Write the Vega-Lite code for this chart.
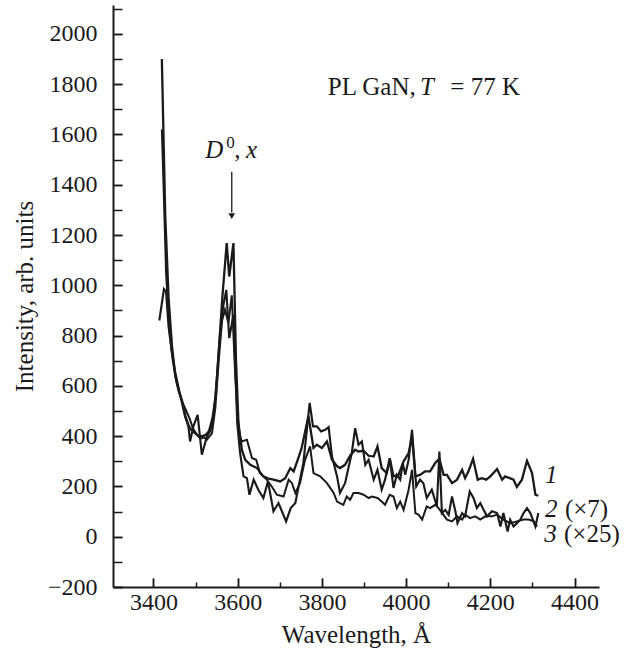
{
  "$schema": "https://vega.github.io/schema/vega-lite/v6.json",
  "width": 486,
  "height": 582,
  "autosize": {"type": "none"},
  "padding": {"left": 113, "top": 5, "right": 29, "bottom": 73},
  "background": "white",
  "config": {
    "view": {"stroke": null},
    "font": "Liberation Serif",
    "axis": {
      "grid": false,
      "domainColor": "#1a1a1a",
      "domainWidth": 2,
      "tickColor": "#1a1a1a",
      "tickWidth": 1.5,
      "labelFont": "Liberation Serif",
      "labelFontSize": 24,
      "labelColor": "#1a1a1a",
      "titleFont": "Liberation Serif",
      "titleFontSize": 25,
      "titleFontWeight": "normal",
      "titleColor": "#1a1a1a",
      "labelFlush": false,
      "labelOverlap": false
    }
  },
  "resolve": {"axis": {"x": "independent", "y": "independent"}},
  "datasets": {
    "spectra": [
      {"s":"1","w":3420,"i":1900},{"s":"1","w":3428,"i":1280},{"s":"1","w":3436,"i":950},{"s":"1","w":3444,"i":760},{"s":"1","w":3452,"i":640},{"s":"1","w":3460,"i":580},{"s":"1","w":3468,"i":540},{"s":"1","w":3476,"i":480},{"s":"1","w":3484,"i":440},{"s":"1","w":3492,"i":420},{"s":"1","w":3500,"i":410},{"s":"1","w":3508,"i":400},{"s":"1","w":3516,"i":400},{"s":"1","w":3524,"i":405},{"s":"1","w":3532,"i":420},{"s":"1","w":3540,"i":470},{"s":"1","w":3548,"i":560},{"s":"1","w":3556,"i":760},{"s":"1","w":3564,"i":960},{"s":"1","w":3574,"i":1168},{"s":"1","w":3580,"i":1035},{"s":"1","w":3590,"i":1168},{"s":"1","w":3596,"i":704},{"s":"1","w":3602,"i":450},{"s":"1","w":3610,"i":346},{"s":"1","w":3618,"i":306},{"s":"1","w":3630,"i":286},{"s":"1","w":3646,"i":273},{"s":"1","w":3661,"i":240},{"s":"1","w":3673,"i":231},{"s":"1","w":3685,"i":227},{"s":"1","w":3701,"i":220},{"s":"1","w":3713,"i":233},{"s":"1","w":3725,"i":273},{"s":"1","w":3733,"i":260},{"s":"1","w":3744,"i":313},{"s":"1","w":3752,"i":353},{"s":"1","w":3768,"i":480},{"s":"1","w":3780,"i":353},{"s":"1","w":3788,"i":366},{"s":"1","w":3800,"i":353},{"s":"1","w":3812,"i":379},{"s":"1","w":3824,"i":306},{"s":"1","w":3836,"i":280},{"s":"1","w":3843,"i":273},{"s":"1","w":3855,"i":286},{"s":"1","w":3867,"i":322},{"s":"1","w":3879,"i":346},{"s":"1","w":3887,"i":339},{"s":"1","w":3899,"i":342},{"s":"1","w":3911,"i":322},{"s":"1","w":3923,"i":319},{"s":"1","w":3932,"i":359},{"s":"1","w":3942,"i":273},{"s":"1","w":3954,"i":253},{"s":"1","w":3962,"i":306},{"s":"1","w":3970,"i":240},{"s":"1","w":3982,"i":246},{"s":"1","w":3994,"i":300},{"s":"1","w":4006,"i":333},{"s":"1","w":4014,"i":400},{"s":"1","w":4022,"i":240},{"s":"1","w":4033,"i":246},{"s":"1","w":4045,"i":260},{"s":"1","w":4057,"i":260},{"s":"1","w":4069,"i":293},{"s":"1","w":4079,"i":310},{"s":"1","w":4089,"i":246},{"s":"1","w":4097,"i":246},{"s":"1","w":4109,"i":213},{"s":"1","w":4121,"i":227},{"s":"1","w":4133,"i":266},{"s":"1","w":4140,"i":233},{"s":"1","w":4148,"i":260},{"s":"1","w":4159,"i":310},{"s":"1","w":4170,"i":227},{"s":"1","w":4180,"i":233},{"s":"1","w":4190,"i":227},{"s":"1","w":4200,"i":240},{"s":"1","w":4216,"i":269},{"s":"1","w":4228,"i":227},{"s":"1","w":4235,"i":240},{"s":"1","w":4246,"i":233},{"s":"1","w":4255,"i":227},{"s":"1","w":4263,"i":198},{"s":"1","w":4275,"i":227},{"s":"1","w":4287,"i":302},{"s":"1","w":4299,"i":253},{"s":"1","w":4307,"i":167},{"s":"1","w":4314,"i":163},
      {"s":"2","w":3414,"i":860},{"s":"2","w":3425,"i":985},{"s":"2","w":3430,"i":975},{"s":"2","w":3436,"i":836},{"s":"2","w":3444,"i":730},{"s":"2","w":3452,"i":651},{"s":"2","w":3459,"i":598},{"s":"2","w":3467,"i":538},{"s":"2","w":3475,"i":478},{"s":"2","w":3483,"i":439},{"s":"2","w":3487,"i":379},{"s":"2","w":3495,"i":440},{"s":"2","w":3505,"i":485},{"s":"2","w":3515,"i":326},{"s":"2","w":3527,"i":399},{"s":"2","w":3535,"i":420},{"s":"2","w":3543,"i":478},{"s":"2","w":3550,"i":620},{"s":"2","w":3558,"i":800},{"s":"2","w":3566,"i":920},{"s":"2","w":3573,"i":982},{"s":"2","w":3580,"i":790},{"s":"2","w":3590,"i":883},{"s":"2","w":3596,"i":600},{"s":"2","w":3599,"i":452},{"s":"2","w":3606,"i":330},{"s":"2","w":3614,"i":240},{"s":"2","w":3622,"i":233},{"s":"2","w":3628,"i":167},{"s":"2","w":3638,"i":227},{"s":"2","w":3649,"i":187},{"s":"2","w":3661,"i":154},{"s":"2","w":3672,"i":220},{"s":"2","w":3685,"i":101},{"s":"2","w":3697,"i":134},{"s":"2","w":3715,"i":61},{"s":"2","w":3726,"i":114},{"s":"2","w":3737,"i":134},{"s":"2","w":3744,"i":194},{"s":"2","w":3756,"i":293},{"s":"2","w":3771,"i":532},{"s":"2","w":3779,"i":439},{"s":"2","w":3788,"i":439},{"s":"2","w":3798,"i":419},{"s":"2","w":3808,"i":425},{"s":"2","w":3816,"i":436},{"s":"2","w":3824,"i":319},{"s":"2","w":3836,"i":240},{"s":"2","w":3843,"i":174},{"s":"2","w":3855,"i":213},{"s":"2","w":3863,"i":273},{"s":"2","w":3871,"i":333},{"s":"2","w":3879,"i":432},{"s":"2","w":3887,"i":366},{"s":"2","w":3895,"i":379},{"s":"2","w":3903,"i":286},{"s":"2","w":3911,"i":306},{"s":"2","w":3923,"i":227},{"s":"2","w":3932,"i":266},{"s":"2","w":3942,"i":187},{"s":"2","w":3950,"i":227},{"s":"2","w":3961,"i":313},{"s":"2","w":3970,"i":194},{"s":"2","w":3978,"i":246},{"s":"2","w":3986,"i":227},{"s":"2","w":3992,"i":293},{"s":"2","w":3998,"i":246},{"s":"2","w":4006,"i":306},{"s":"2","w":4014,"i":425},{"s":"2","w":4024,"i":200},{"s":"2","w":4033,"i":227},{"s":"2","w":4041,"i":213},{"s":"2","w":4049,"i":154},{"s":"2","w":4061,"i":187},{"s":"2","w":4073,"i":121},{"s":"2","w":4079,"i":339},{"s":"2","w":4085,"i":94},{"s":"2","w":4093,"i":107},{"s":"2","w":4101,"i":87},{"s":"2","w":4109,"i":160},{"s":"2","w":4117,"i":101},{"s":"2","w":4122,"i":54},{"s":"2","w":4133,"i":94},{"s":"2","w":4140,"i":81},{"s":"2","w":4151,"i":180},{"s":"2","w":4160,"i":154},{"s":"2","w":4168,"i":114},{"s":"2","w":4176,"i":134},{"s":"2","w":4184,"i":107},{"s":"2","w":4192,"i":81},{"s":"2","w":4204,"i":101},{"s":"2","w":4216,"i":94},{"s":"2","w":4224,"i":41},{"s":"2","w":4231,"i":94},{"s":"2","w":4241,"i":21},{"s":"2","w":4247,"i":68},{"s":"2","w":4255,"i":41},{"s":"2","w":4263,"i":54},{"s":"2","w":4271,"i":68},{"s":"2","w":4279,"i":94},{"s":"2","w":4287,"i":114},{"s":"2","w":4295,"i":94},{"s":"2","w":4307,"i":41},{"s":"2","w":4314,"i":94},
      {"s":"3","w":3420,"i":1620},{"s":"3","w":3424,"i":1400},{"s":"3","w":3430,"i":1050},{"s":"3","w":3438,"i":820},{"s":"3","w":3446,"i":700},{"s":"3","w":3454,"i":620},{"s":"3","w":3462,"i":570},{"s":"3","w":3470,"i":530},{"s":"3","w":3478,"i":500},{"s":"3","w":3486,"i":470},{"s":"3","w":3494,"i":430},{"s":"3","w":3503,"i":406},{"s":"3","w":3512,"i":390},{"s":"3","w":3520,"i":395},{"s":"3","w":3527,"i":386},{"s":"3","w":3539,"i":411},{"s":"3","w":3547,"i":512},{"s":"3","w":3555,"i":700},{"s":"3","w":3563,"i":860},{"s":"3","w":3570,"i":903},{"s":"3","w":3578,"i":850},{"s":"3","w":3586,"i":960},{"s":"3","w":3594,"i":650},{"s":"3","w":3600,"i":480},{"s":"3","w":3605,"i":400},{"s":"3","w":3610,"i":379},{"s":"3","w":3622,"i":386},{"s":"3","w":3634,"i":313},{"s":"3","w":3644,"i":306},{"s":"3","w":3653,"i":253},{"s":"3","w":3669,"i":227},{"s":"3","w":3681,"i":200},{"s":"3","w":3693,"i":167},{"s":"3","w":3709,"i":160},{"s":"3","w":3721,"i":227},{"s":"3","w":3729,"i":213},{"s":"3","w":3737,"i":174},{"s":"3","w":3748,"i":213},{"s":"3","w":3760,"i":306},{"s":"3","w":3772,"i":359},{"s":"3","w":3780,"i":253},{"s":"3","w":3796,"i":240},{"s":"3","w":3812,"i":213},{"s":"3","w":3828,"i":174},{"s":"3","w":3836,"i":140},{"s":"3","w":3851,"i":127},{"s":"3","w":3859,"i":160},{"s":"3","w":3867,"i":147},{"s":"3","w":3875,"i":174},{"s":"3","w":3887,"i":174},{"s":"3","w":3899,"i":167},{"s":"3","w":3911,"i":154},{"s":"3","w":3919,"i":160},{"s":"3","w":3932,"i":154},{"s":"3","w":3942,"i":140},{"s":"3","w":3950,"i":127},{"s":"3","w":3961,"i":167},{"s":"3","w":3970,"i":160},{"s":"3","w":3978,"i":114},{"s":"3","w":3986,"i":140},{"s":"3","w":3994,"i":107},{"s":"3","w":4006,"i":187},{"s":"3","w":4014,"i":266},{"s":"3","w":4022,"i":94},{"s":"3","w":4030,"i":87},{"s":"3","w":4038,"i":68},{"s":"3","w":4049,"i":121},{"s":"3","w":4057,"i":114},{"s":"3","w":4069,"i":127},{"s":"3","w":4077,"i":114},{"s":"3","w":4097,"i":68},{"s":"3","w":4109,"i":61},{"s":"3","w":4121,"i":81},{"s":"3","w":4133,"i":68},{"s":"3","w":4140,"i":88},{"s":"3","w":4152,"i":74},{"s":"3","w":4164,"i":81},{"s":"3","w":4176,"i":68},{"s":"3","w":4188,"i":81},{"s":"3","w":4204,"i":81},{"s":"3","w":4216,"i":88},{"s":"3","w":4231,"i":68},{"s":"3","w":4247,"i":54},{"s":"3","w":4263,"i":61},{"s":"3","w":4279,"i":68},{"s":"3","w":4291,"i":68},{"s":"3","w":4303,"i":61},{"s":"3","w":4311,"i":41}
    ]
  },
  "layer": [
    {
      "data": {"name": "spectra"},
      "mark": {"type": "line", "color": "#1a1a1a", "strokeJoin": "miter"},
      "encoding": {
        "x": {
          "field": "w", "type": "quantitative",
          "scale": {"domain": [3304, 4458], "nice": false, "zero": false},
          "axis": {
            "title": "Wavelength, Å",
            "values": [3400, 3600, 3800, 4000, 4200, 4400],
            "format": "d",
            "ticks": true,
            "tickSize": -9,
            "labelPadding": 12,
            "titlePadding": 8
          }
        },
        "y": {
          "field": "i", "type": "quantitative",
          "scale": {"domain": [-200, 2115], "nice": false, "zero": false},
          "axis": {
            "title": "Intensity, arb. units",
            "values": [-200, 0, 200, 400, 600, 800, 1000, 1200, 1400, 1600, 1800, 2000],
            "format": "d",
            "tickSize": -9,
            "labelPadding": 25,
            "titlePadding": 10
          }
        },
        "detail": {"field": "s"},
        "strokeWidth": {"field": "s", "type": "nominal", "scale": {"domain": ["1", "2", "3"], "range": [2.3, 2, 1.1]}, "legend": null}
      }
    },
    {
      "data": {"values": [{}]},
      "mark": {"type": "rule", "color": "#1a1a1a", "strokeWidth": 1.3},
      "encoding": {
        "x": {"datum": 3586, "axis": {"orient": "top", "offset": -582, "values": [3400, 3600, 3800, 4000, 4200, 4400], "labels": false, "domain": false, "ticks": true, "tickSize": 9, "title": null}},
        "y": {"datum": 1452, "axis": {"orient": "right", "offset": -486, "values": [-200, -100, 0, 100, 200, 300, 400, 500, 600, 700, 800, 900, 1000, 1100, 1200, 1300, 1400, 1500, 1600, 1700, 1800, 1900, 2000, 2100], "labels": false, "domain": false, "ticks": true, "tickSize": 9, "title": null}},
        "y2": {"datum": 1290}
      }
    },
    {
      "data": {"values": [{}]},
      "mark": {"type": "point", "shape": "triangle-down", "filled": true, "color": "#1a1a1a", "opacity": 1, "size": 45},
      "encoding": {
        "x": {"datum": 3586, "axis": {"orient": "top", "offset": -582, "values": [3500, 3700, 3900, 4100, 4300], "labels": false, "domain": false, "ticks": true, "tickSize": 5, "title": null}},
        "y": {"datum": 1275, "axis": null}
      }
    },
    {
      "data": {"values": [{}]},
      "mark": {"type": "text", "text": "D", "fontStyle": "italic", "fontSize": 25, "align": "left", "baseline": "alphabetic", "color": "#1a1a1a"},
      "encoding": {"x": {"datum": 3523, "axis": null}, "y": {"datum": 1507, "axis": null}}
    },
    {
      "data": {"values": [{}]},
      "mark": {"type": "text", "text": "0", "fontSize": 17, "align": "left", "baseline": "alphabetic", "color": "#1a1a1a"},
      "encoding": {"x": {"datum": 3573, "axis": null}, "y": {"datum": 1545, "axis": null}}
    },
    {
      "data": {"values": [{}]},
      "mark": {"type": "text", "text": ",", "fontSize": 25, "align": "left", "baseline": "alphabetic", "color": "#1a1a1a"},
      "encoding": {"x": {"datum": 3592, "axis": null}, "y": {"datum": 1507, "axis": null}}
    },
    {
      "data": {"values": [{}]},
      "mark": {"type": "text", "text": "x", "fontStyle": "italic", "fontSize": 25, "align": "left", "baseline": "alphabetic", "color": "#1a1a1a"},
      "encoding": {"x": {"datum": 3620, "axis": null}, "y": {"datum": 1507, "axis": null}}
    },
    {
      "data": {"values": [{}]},
      "mark": {"type": "text", "text": "PL GaN,", "fontSize": 25, "align": "left", "baseline": "alphabetic", "color": "#1a1a1a"},
      "encoding": {"x": {"datum": 3814, "axis": null}, "y": {"datum": 1757, "axis": null}}
    },
    {
      "data": {"values": [{}]},
      "mark": {"type": "text", "text": "T", "fontStyle": "italic", "fontSize": 25, "align": "left", "baseline": "alphabetic", "color": "#1a1a1a"},
      "encoding": {"x": {"datum": 4033, "axis": null}, "y": {"datum": 1757, "axis": null}}
    },
    {
      "data": {"values": [{}]},
      "mark": {"type": "text", "text": "= 77 K", "fontSize": 25, "align": "left", "baseline": "alphabetic", "color": "#1a1a1a"},
      "encoding": {"x": {"datum": 4105, "axis": null}, "y": {"datum": 1757, "axis": null}}
    },
    {
      "data": {"values": [{}]},
      "mark": {"type": "text", "text": "1", "fontStyle": "italic", "fontSize": 25, "align": "left", "baseline": "alphabetic", "color": "#1a1a1a"},
      "encoding": {"x": {"datum": 4330, "axis": null}, "y": {"datum": 215, "axis": null}}
    },
    {
      "data": {"values": [{}]},
      "mark": {"type": "text", "text": "2", "fontStyle": "italic", "fontSize": 25, "align": "left", "baseline": "alphabetic", "color": "#1a1a1a"},
      "encoding": {"x": {"datum": 4330, "axis": null}, "y": {"datum": 80, "axis": null}}
    },
    {
      "data": {"values": [{}]},
      "mark": {"type": "text", "text": "(×7)", "fontSize": 25, "align": "left", "baseline": "alphabetic", "color": "#1a1a1a"},
      "encoding": {"x": {"datum": 4377, "axis": null}, "y": {"datum": 80, "axis": null}}
    },
    {
      "data": {"values": [{}]},
      "mark": {"type": "text", "text": "3", "fontStyle": "italic", "fontSize": 25, "align": "left", "baseline": "alphabetic", "color": "#1a1a1a"},
      "encoding": {"x": {"datum": 4328, "axis": null}, "y": {"datum": -20, "axis": null}}
    },
    {
      "data": {"values": [{}]},
      "mark": {"type": "text", "text": "(×25)", "fontSize": 25, "align": "left", "baseline": "alphabetic", "color": "#1a1a1a"},
      "encoding": {"x": {"datum": 4375, "axis": null}, "y": {"datum": -20, "axis": null}}
    }
  ]
}
